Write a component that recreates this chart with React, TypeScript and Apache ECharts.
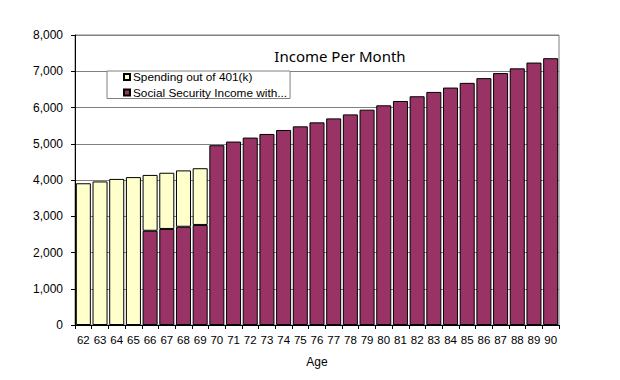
import React, { useEffect, useRef } from "react";
import * as echarts from "echarts";

const ages = [
  "62", "63", "64", "65", "66", "67", "68", "69", "70", "71", "72", "73", "74", "75", "76",
  "77", "78", "79", "80", "81", "82", "83", "84", "85", "86", "87", "88", "89", "90",
];

const socialSecurity = [
  0, 0, 0, 0, 2600, 2650, 2710, 2760, 4960, 5060, 5170, 5270, 5380, 5480, 5590,
  5700, 5810, 5940, 6060, 6180, 6310, 6430, 6550, 6680, 6810, 6950, 7080, 7240, 7360,
];

const spending401k = [
  3910, 3960, 4030, 4080, 1540, 1550, 1555, 1565, 0, 0, 0, 0, 0, 0, 0,
  0, 0, 0, 0, 0, 0, 0, 0, 0, 0, 0, 0, 0, 0,
];

const yTicks = [0, 1000, 2000, 3000, 4000, 5000, 6000, 7000, 8000];

const FONT = "'Liberation Sans', Arial, sans-serif";

export default function App() {
  const ref = useRef<HTMLDivElement>(null);

  useEffect(() => {
    if (!ref.current) return;
    const chart = echarts.init(ref.current, null, { renderer: "svg" });
    chart.setOption({
      animation: false,
      backgroundColor: "#ffffff",
      textStyle: { fontFamily: FONT },
      grid: {
        left: 75,
        right: 61,
        top: 35,
        bottom: 55,
        show: true,
        borderColor: "#808080",
        borderWidth: 1,
        backgroundColor: "transparent",
      },
      legend: {
        orient: "vertical",
        left: 107,
        top: 71,
        padding: [0, 3, 0, 16],
        itemGap: 3.5,
        itemWidth: 6,
        itemHeight: 6,
        backgroundColor: "#ffffff",
        borderColor: "#808080",
        borderWidth: 1,
        icon: "rect",
        textStyle: { fontFamily: FONT, fontSize: 11.8, color: "#000", lineHeight: 11, padding: [0, 0, 0, -2] },
        data: ["Spending out of 401(k)", "Social Security Income with..."],
      },
      graphic: [
        {
          type: "text",
          x: 340,
          y: 56,
          style: {
            text: "Income Per Month",
            fontFamily: "'Noto Sans', sans-serif",
            fontSize: 15,
            fill: "#000",
            textAlign: "center",
            textVerticalAlign: "middle",
          },
          z: 10,
        },
      ],
      xAxis: {
        type: "category",
        data: ages,
        name: "Age",
        nameLocation: "middle",
        nameGap: 31,
        nameTextStyle: { fontFamily: FONT, fontSize: 12, color: "#000" },
        axisLine: { lineStyle: { color: "#000", width: 1 } },
        axisTick: { show: true, length: 4, lineStyle: { color: "#000" } },
        axisLabel: {
          interval: 0,
          fontFamily: FONT,
          fontSize: 11.5,
          color: "#000",
          margin: 9,
        },
      },
      yAxis: {
        type: "value",
        min: 0,
        max: 8000,
        interval: 1000,
        axisLine: { show: true, lineStyle: { color: "#000", width: 1 } },
        axisTick: { show: true, length: 4, lineStyle: { color: "#000" } },
        splitLine: { show: true, lineStyle: { color: "#808080", width: 1 } },
        axisLabel: {
          fontFamily: FONT,
          fontSize: 12,
          color: "#000",
          margin: 12,
          formatter: (v: number) => (yTicks.includes(v) ? v.toLocaleString("en-US") : ""),
        },
      },
      series: [
        {
          name: "Social Security Income with...",
          type: "bar",
          stack: "total",
          barCategoryGap: "10%",
          data: socialSecurity.map((v) => (v === 0 ? null : v)),
          itemStyle: { color: "#993366", borderColor: "#000", borderWidth: 1 },
        },
        {
          name: "Spending out of 401(k)",
          type: "bar",
          stack: "total",
          barCategoryGap: "10%",
          data: spending401k.map((v) => (v === 0 ? null : v)),
          itemStyle: { color: "#FFFFCC", borderColor: "#000", borderWidth: 1 },
        },
      ],
    });
    return () => chart.dispose();
  }, []);

  return (
    <div
      ref={ref}
      style={{ position: "absolute", left: 0, top: 0, width: 620, height: 380 }}
    />
  );
}
